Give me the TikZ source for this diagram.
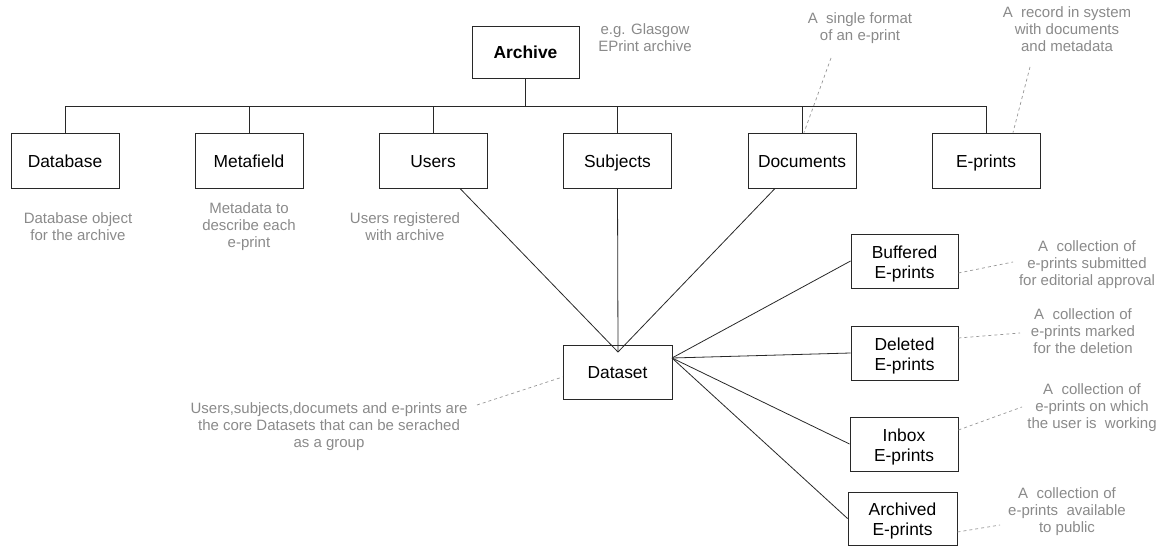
\documentclass[tikz,border=0pt]{standalone}
\usepackage{fontspec}
\setmainfont{Liberation Sans}
\usetikzlibrary{calc}
\definecolor{notegray}{RGB}{138,138,138}
\definecolor{dashgray}{RGB}{150,150,150}
\definecolor{linegray}{RGB}{40,40,40}
\tikzset{
  box/.style={draw=linegray, line width=0.9pt, minimum width=108pt, minimum height=55pt, inner sep=0pt, align=center, font=\fontsize{17.4}{20}\selectfont},
  sbox/.style={box, text height=13.4pt, text depth=0pt},
  rbox/.style={box, minimum height=54pt, text height=34.4pt, text depth=0pt},
  note/.style={text=notegray, align=center, inner sep=0pt, font=\fontsize{15}{17}\selectfont},
  conn/.style={draw=linegray, line width=0.8pt},
  annot/.style={draw=dashgray, line width=0.7pt, dash pattern=on 3pt off 3pt},
}
\begin{document}
\begin{tikzpicture}[x=1pt,y=-1pt]
\useasboundingbox (0,0) rectangle (1173,546);
% nodes
\node[sbox, minimum width=107pt, minimum height=52pt, font=\fontsize{17.4}{20}\selectfont\bfseries] (archive) at (525.5,52) {Archive};
\node[sbox] (database) at (65,160.5) {Database};
\node[sbox] (metafield) at (249,160.5) {Metafield};
\node[sbox] (users) at (433,160.5) {Users};
\node[sbox] (subjects) at (617.5,160.5) {Subjects};
\node[sbox] (documents) at (802,160.5) {Documents};
\node[sbox] (eprints) at (986,160.5) {E-prints};
\node[sbox, minimum width=109pt, minimum height=54pt] (dataset) at (617.5,372) {Dataset};
\node[rbox, minimum width=107pt] (buffered) at (904.5,261) {Buffered\\E-prints};
\node[rbox, minimum width=107pt] (deleted) at (904.5,353) {Deleted\\E-prints};
\node[rbox] (inbox) at (904,444) {Inbox\\E-prints};
\node[rbox, minimum width=109pt, minimum height=53pt] (archived) at (902.5,518.5) {Archived\\E-prints};
% notes
\node[note] (n-archive) at (645,38) {e.g. Glasgow\\EPrint archive};
\node[note] (n-documents) at (860,28) {A\ \ single format\\of an e-print};
\node[note] (n-eprints) at (1067,29.5) {A\ \ record in system\\with documents\\and metadata};
\node[note] (n-database) at (78,226.5) {Database object\\for the archive};
\node[note] (n-metafield) at (249,226.5) {Metadata to\\describe each\\e-print};
\node[note] (n-users) at (405,226.5) {Users registered\\with archive};
\node[note] (n-dataset) at (329,427) {Users,subjects,documets and e-prints are\\the core Datasets that can be serached\\as a group};
\node[note] (n-buffered) at (1087,265) {A\ \ collection of\\e-prints submitted\\for editorial approval};
\node[note] (n-deleted) at (1083,331) {A\ \ collection of\\e-prints marked\\for the deletion};
\node[note] (n-inbox) at (1092,408) {A\ \ collection of\\e-prints on which\\the user is\ \ working};
\node[note] (n-archived) at (1067,512) {A\ \ collection of\\e-prints\ \ available\\to public};
% tree
\coordinate (bus) at (525.5,106);
\draw[conn] (archive.south) -- (bus);
\draw[conn] (database.north) -- (database.north |- bus) -- (eprints.north |- bus) -- (eprints.north);
\foreach \n in {metafield,users,subjects,documents}
  \draw[conn] (\n.north) -- (\n.north |- bus);
% dataset links
\coordinate (dtop) at (618,352);
\coordinate (dright) at (672,358);
\draw[conn] ($(users.south)+(27,0)$) -- (dtop);
\draw[conn] (subjects.south) -- (dtop);
\draw[conn] ($(documents.south)+(-27,0)$) -- (dtop);
\foreach \n in {buffered,deleted,inbox,archived}
  \draw[conn] (dright) -- (\n.west);
% annotation lines
\coordinate (a-doc) at (831,58);
\coordinate (a-ep) at (1030,67);
\coordinate (a-ds) at (477,405);
\coordinate (a-bu) at (1013,262);
\coordinate (a-de) at (1020,333);
\coordinate (a-in) at (1022,407);
\coordinate (a-ar) at (1000,525);
\draw[annot] (a-doc) -- ($(documents.north)+(2,0)$);
\draw[annot] (a-ep) -- ($(eprints.north)+(27,0)$);
\draw[annot] (a-ds) -- ($(dataset.west)+(0,5)$);
\draw[annot] ($(buffered.east)+(0,12)$) -- (a-bu);
\draw[annot] ($(deleted.east)+(0,-15)$) -- (a-de);
\draw[annot] ($(inbox.east)+(0,-14)$) -- (a-in);
\draw[annot] ($(archived.east)+(0,13.5)$) -- (a-ar);
\end{tikzpicture}
\end{document}
